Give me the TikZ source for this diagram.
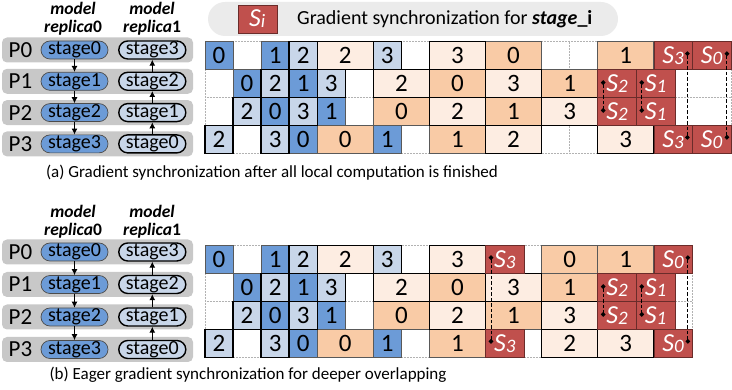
\documentclass[tikz,border=0pt]{standalone}
\usepackage{fontspec}
\setmainfont{Carlito}
\usetikzlibrary{arrows.meta,positioning}
\definecolor{fwdAc}{RGB}{108,155,215}
\definecolor{fwdBc}{RGB}{200,214,233}
\definecolor{bwdAc}{RGB}{249,203,166}
\definecolor{bwdBc}{RGB}{253,237,226}
\definecolor{syncc}{RGB}{192,80,77}
\definecolor{rowc}{RGB}{200,200,200}
\definecolor{legc}{RGB}{235,235,235}
\newcommand{\gsync}[1]{{\fontsize{26}{26}\selectfont\itshape S\raisebox{-1pt}{\fontsize{19}{19}\selectfont #1}}}
% one block of the schedule: name, style, first column, last column, row, label
\newcommand{\cell}[6]{%
\pgfmathsetmacro\clx{\gx+#3*\cw}%
\pgfmathsetmacro\clw{(#4-#3)*\cw}%
\pgfmathsetmacro\cly{\gy+(#5+0.5)*\rh}%
\node[#2,minimum width=\clw pt] (#1) at (\clx,\cly) {#6};}
\tikzset{
cellbase/.style={anchor=west,outer sep=0pt,inner sep=0pt,minimum height=27.9pt,font=\fontsize{25}{25}\selectfont},
fwdA/.style={cellbase,fill=fwdAc,draw=black!65,line width=0.7pt},
fwdB/.style={cellbase,fill=fwdBc,draw=black,line width=1.4pt},
bwdA/.style={cellbase,fill=bwdAc,draw=black!65,line width=0.7pt},
bwdB/.style={cellbase,fill=bwdBc,draw=black,line width=1.4pt},
sync/.style={cellbase,fill=syncc,draw=syncc!55!black,line width=0.6pt,text=white},
gridline/.style={draw=black!30,densely dotted,line width=0.5pt},
procrow/.style={fill=rowc,rounded corners=5pt,minimum width=191pt,minimum height=25pt,inner sep=0pt},
plabel/.style={font=\fontsize{23}{23}\selectfont,inner sep=0pt},
stageA/.style={fill=fwdAc,draw=black!70,line width=0.7pt,rounded corners=9pt,minimum width=67pt,minimum height=18pt,inner sep=0pt,font=\fontsize{20}{20}\selectfont},
stageB/.style={stageA,fill=fwdBc,draw=black,line width=1.4pt},
stagearrow/.style={-{Latex[length=6pt,width=6pt]},line width=1pt},
header/.style={anchor=base,font=\fontsize{17.5}{17.5}\selectfont\bfseries\itshape,inner sep=0pt},
legbar/.style={fill=legc,rounded corners=17pt,minimum width=410pt,minimum height=34pt,inner sep=0pt},
legtext/.style={anchor=west,font=\fontsize{20}{20}\selectfont,inner sep=0pt},
capt/.style={font=\fontsize{17}{17}\selectfont,inner sep=0pt},
syncline/.style={line width=0.9pt,dash pattern=on 3.5pt off 2pt,{Circle[length=4.5pt]}-{Circle[length=4.5pt]},shorten <=-2.25pt,shorten >=-2.25pt}
}

\begin{document}
\begin{tikzpicture}[x=1pt,y=-1pt]
\useasboundingbox (0,0) rectangle (732,390);
% legend
\node[legbar] (leg) at (413,19) {};
\node[sync,anchor=center,minimum width=39pt,minimum height=28pt] (legS) at (257.3,19) {\gsync{i}};
\node[legtext] (legT) at (297,19) {Gradient synchronization for \textbf{\textit{stage}\_i}};

% (a) replicas
\node[header] (aH0) at (73,15) {model};
\node[header] (aH1) at (152,15) {model};
\node[header] (aK0) at ([yshift=-17.5pt]aH0.base) {replica\textup{0}};
\node[header] (aK1) at ([yshift=-17.5pt]aH1.base) {replica\textup{1}};
\foreach \i in {0,...,3} {
  \pgfmathsetmacro\py{50+\i*31.3}
  \pgfmathtruncatemacro\j{3-\i}
  \node[procrow] (aR\i) at (97.5,\py) {};
  \node[plabel] (aP\i) at (20.5,\py) {P\i};
  \node[stageA] (aA\i) at (74.5,\py) {stage\i};
  \node[stageB] (aB\i) at (152.3,\py) {stage\j};
}
\foreach \i/\j in {0/1,1/2,2/3} {
  \draw[stagearrow] (aA\i) -- (aA\j);
  \draw[stagearrow] (aB\j) -- (aB\i);
}

% (a) schedule
\def\gx{205}\def\gy{41.7}\def\cw{28.05}\def\rh{27.9}
\draw[gridline] (\gx,\gy) rectangle (\gx+18.75*\cw,\gy+4*\rh);
\foreach \k in {1,2,3} \draw[gridline] (\gx,\gy+\k*\rh) -- (\gx+18.75*\cw,\gy+\k*\rh);
\foreach \k in {1,...,16} \draw[gridline] (\gx+\k*\cw,\gy) -- (\gx+\k*\cw,\gy+4*\rh);
\foreach \r/\f/\t/\s/\l [count=\i] in {0/0/1/fwdA/0,0/2/3/fwdA/1,0/10/12/bwdA/0,0/14/16/bwdA/1,
  1/1/2/fwdA/0,1/3/4/fwdA/1,1/8/10/bwdA/0,1/12/14/bwdA/1,
  2/2/3/fwdA/0,2/4/5/fwdA/1,2/6/8/bwdA/0,2/10/12/bwdA/1,
  3/3/4/fwdA/0,3/4/6/bwdA/0,3/6/7/fwdA/1,3/8/10/bwdA/1}
  {\cell{aM\i}{\s}{\f}{\t}{\r}{\l}}
\foreach \r/\f/\t/\s/\l [count=\i] in {0/3/4/fwdB/2,0/4/6/bwdB/2,0/6/7/fwdB/3,0/8/10/bwdB/3,
  1/2/3/fwdB/2,1/4/5/fwdB/3,1/6/8/bwdB/2,1/10/12/bwdB/3,
  2/1/2/fwdB/2,2/3/4/fwdB/3,2/8/10/bwdB/2,2/12/14/bwdB/3,
  3/0/1/fwdB/2,3/2/3/fwdB/3,3/10/12/bwdB/2,3/14/16/bwdB/3}
  {\cell{aN\i}{\s}{\f}{\t}{\r}{\l}}
\cell{aS3t}{sync}{16}{17.375}{0}{\gsync{3}}
\cell{aS0t}{sync}{17.375}{18.75}{0}{\gsync{0}}
\cell{aS2t}{sync}{14}{15.375}{1}{\gsync{2}}
\cell{aS1t}{sync}{15.375}{16.75}{1}{\gsync{1}}
\cell{aS2b}{sync}{14}{15.375}{2}{\gsync{2}}
\cell{aS1b}{sync}{15.375}{16.75}{2}{\gsync{1}}
\cell{aS3b}{sync}{16}{17.375}{3}{\gsync{3}}
\cell{aS0b}{sync}{17.375}{18.75}{3}{\gsync{0}}
\draw[syncline] ([xshift=-5pt,yshift=2pt]aS3t.east) -- ([xshift=-5pt,yshift=2pt]aS3b.east);
\draw[syncline] ([xshift=-4pt,yshift=2pt]aS0t.east) -- ([xshift=-4pt,yshift=2pt]aS0b.east);
\draw[syncline] ([xshift=5.5pt,yshift=1pt]aS2t.west) -- ([xshift=5.5pt,yshift=1pt]aS2b.west);
\draw[syncline] ([xshift=5.5pt,yshift=1pt]aS1t.west) -- ([xshift=5.5pt,yshift=1pt]aS1b.west);
\node[capt] (capA) at (272,173) {(a) Gradient synchronization after all local computation is finished};

% (b) replicas
\node[header] (bH0) at (73,218) {model};
\node[header] (bH1) at (152,218) {model};
\node[header] (bK0) at ([yshift=-17.5pt]bH0.base) {replica\textup{0}};
\node[header] (bK1) at ([yshift=-17.5pt]bH1.base) {replica\textup{1}};
\foreach \i in {0,...,3} {
  \pgfmathsetmacro\py{252+\i*32.5}
  \pgfmathtruncatemacro\j{3-\i}
  \node[procrow] (bR\i) at (97.5,\py) {};
  \node[plabel] (bP\i) at (20.5,\py) {P\i};
  \node[stageA] (bA\i) at (74.5,\py) {stage\i};
  \node[stageB] (bB\i) at (152.3,\py) {stage\j};
}
\foreach \i/\j in {0/1,1/2,2/3} {
  \draw[stagearrow] (bA\i) -- (bA\j);
  \draw[stagearrow] (bB\j) -- (bB\i);
}

% (b) schedule
\def\gy{245.7}
\draw[gridline] (\gx,\gy) rectangle (\gx+17.375*\cw,\gy+4*\rh);
\foreach \k in {1,2,3} \draw[gridline] (\gx,\gy+\k*\rh) -- (\gx+17.375*\cw,\gy+\k*\rh);
\foreach \k in {1,...,16} \draw[gridline] (\gx+\k*\cw,\gy) -- (\gx+\k*\cw,\gy+4*\rh);
\foreach \r/\f/\t/\s/\l [count=\i] in {0/0/1/fwdA/0,0/2/3/fwdA/1,0/12/14/bwdA/0,0/14/16/bwdA/1,
  1/1/2/fwdA/0,1/3/4/fwdA/1,1/8/10/bwdA/0,1/12/14/bwdA/1,
  2/2/3/fwdA/0,2/4/5/fwdA/1,2/6/8/bwdA/0,2/10/12/bwdA/1,
  3/3/4/fwdA/0,3/4/6/bwdA/0,3/6/7/fwdA/1,3/8/10/bwdA/1}
  {\cell{bM\i}{\s}{\f}{\t}{\r}{\l}}
\foreach \r/\f/\t/\s/\l [count=\i] in {0/3/4/fwdB/2,0/4/6/bwdB/2,0/6/7/fwdB/3,0/8/10/bwdB/3,
  1/2/3/fwdB/2,1/4/5/fwdB/3,1/6/8/bwdB/2,1/10/12/bwdB/3,
  2/1/2/fwdB/2,2/3/4/fwdB/3,2/8/10/bwdB/2,2/12/14/bwdB/3,
  3/0/1/fwdB/2,3/2/3/fwdB/3,3/12/14/bwdB/2,3/14/16/bwdB/3}
  {\cell{bN\i}{\s}{\f}{\t}{\r}{\l}}
\cell{bS3t}{sync}{10}{11.375}{0}{\gsync{3}}
\cell{bS0t}{sync}{16}{17.375}{0}{\gsync{0}}
\cell{bS2t}{sync}{14}{15.375}{1}{\gsync{2}}
\cell{bS1t}{sync}{15.375}{16.75}{1}{\gsync{1}}
\cell{bS2b}{sync}{14}{15.375}{2}{\gsync{2}}
\cell{bS1b}{sync}{15.375}{16.75}{2}{\gsync{1}}
\cell{bS3b}{sync}{10}{11.375}{3}{\gsync{3}}
\cell{bS0b}{sync}{16}{17.375}{3}{\gsync{0}}
\draw[syncline] ([xshift=5.5pt,yshift=2pt]bS3t.west) -- ([xshift=5.5pt,yshift=2pt]bS3b.west);
\draw[syncline] ([xshift=-4.5pt,yshift=2pt]bS0t.east) -- ([xshift=-4.5pt,yshift=2pt]bS0b.east);
\draw[syncline] ([xshift=5.5pt,yshift=1pt]bS2t.west) -- ([xshift=5.5pt,yshift=1pt]bS2b.west);
\draw[syncline] ([xshift=5.5pt,yshift=1pt]bS1t.west) -- ([xshift=5.5pt,yshift=1pt]bS1b.west);
\node[capt] (capB) at (248,375) {(b) Eager gradient synchronization for deeper overlapping};
\end{tikzpicture}
\end{document}
